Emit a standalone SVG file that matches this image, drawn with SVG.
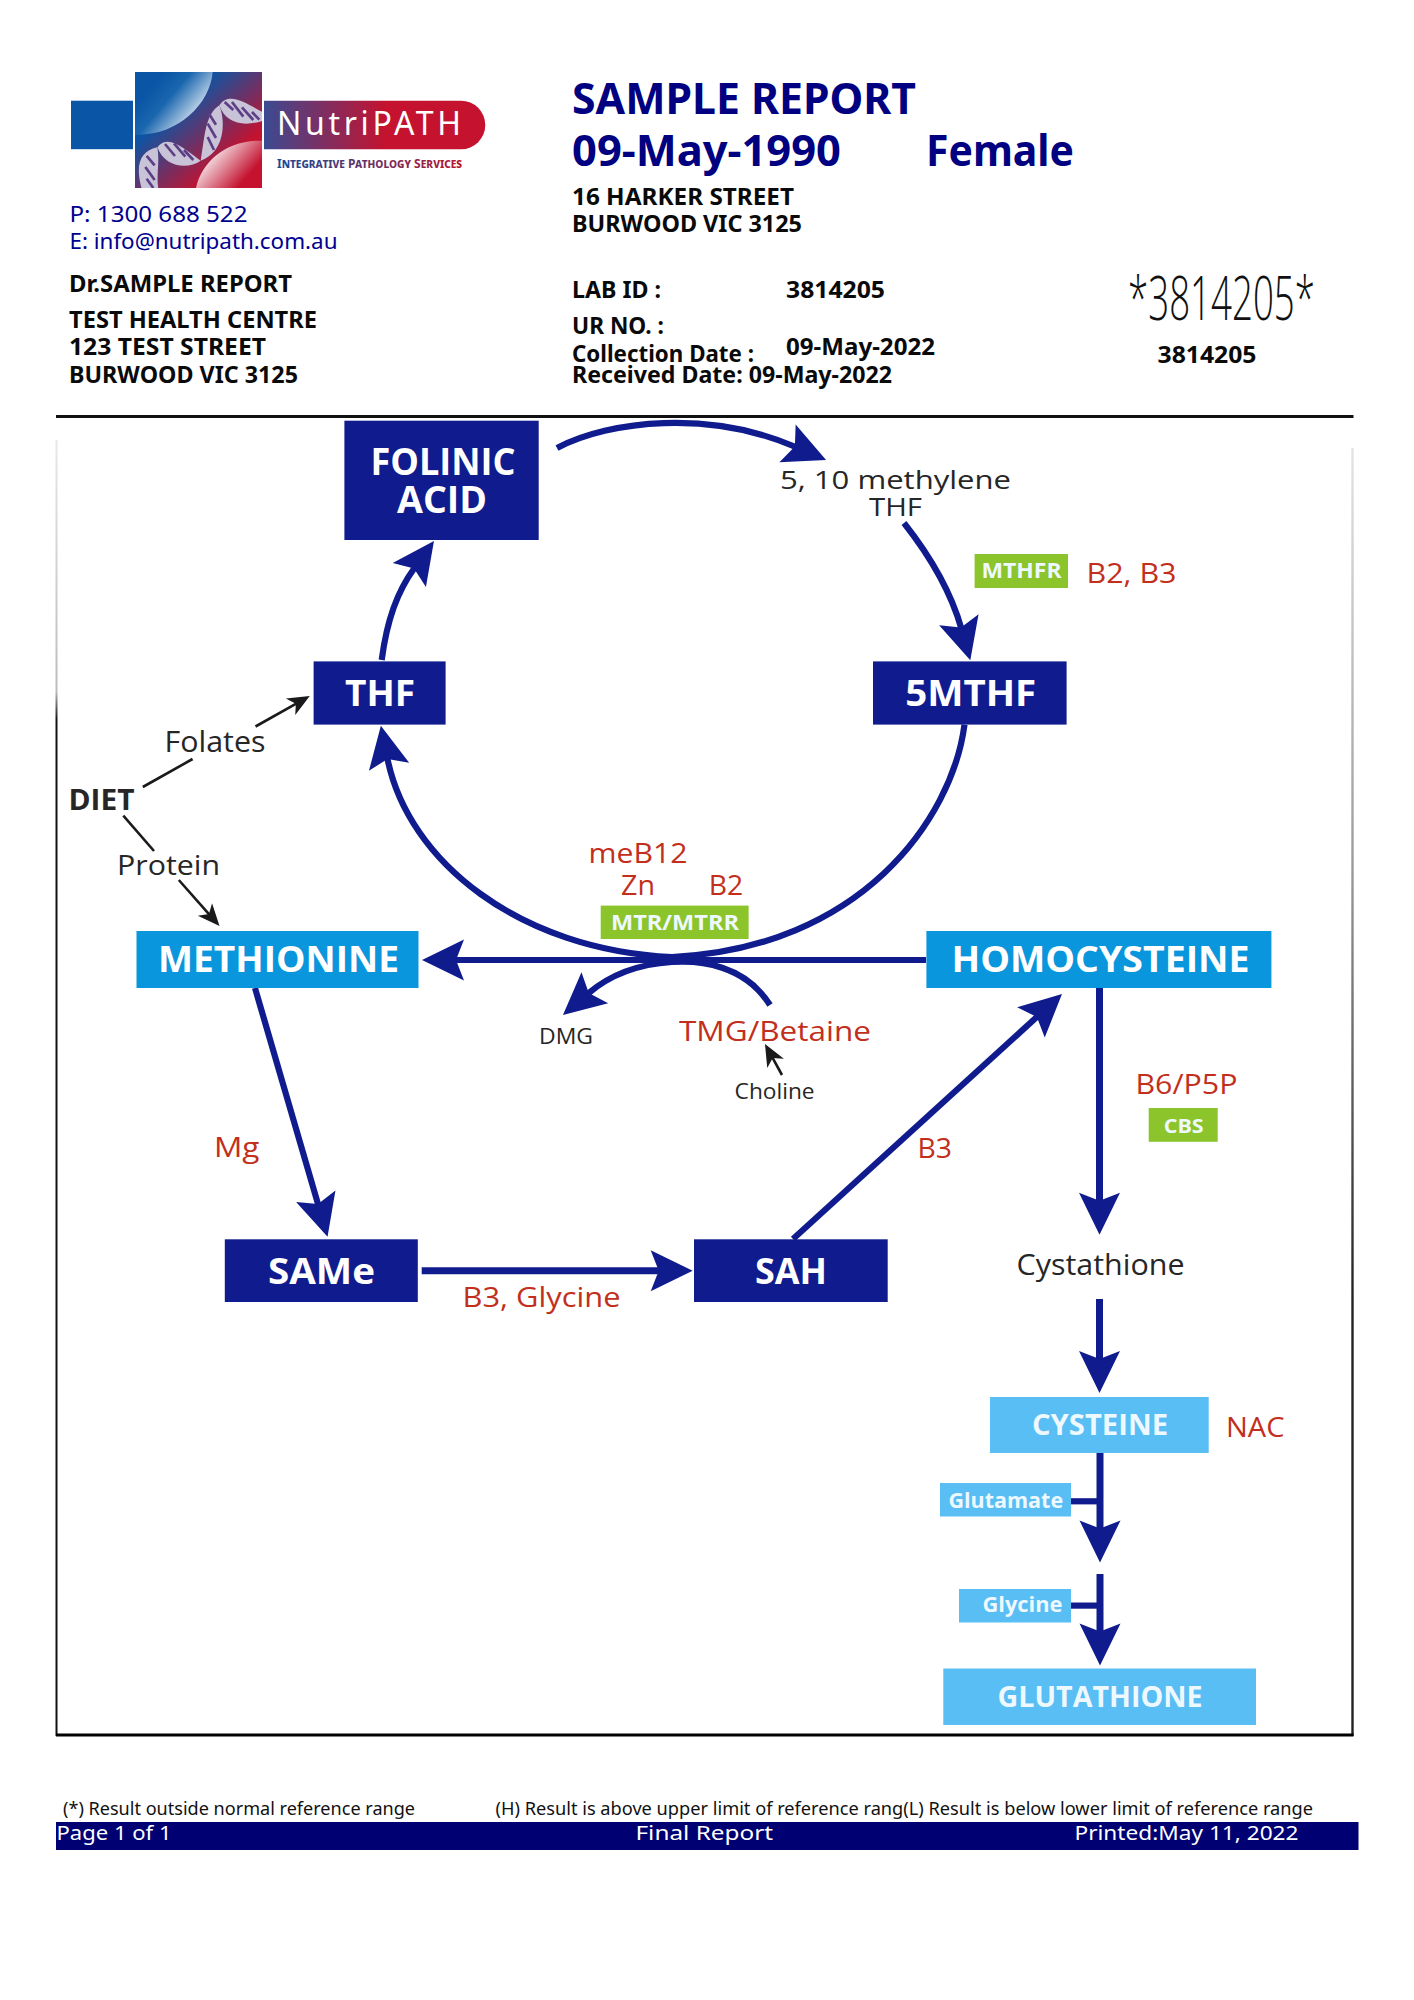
<svg xmlns="http://www.w3.org/2000/svg" width="1414" height="2000" viewBox="0 0 1414 2000">
<style>
text{font-family:"Noto Sans","Liberation Sans",sans-serif}
.o{font-family:"Open Sans","Liberation Sans",sans-serif}
.hn{font-weight:700;fill:#000080}
.hb{font-weight:700;fill:#0a0a0a;font-size:23px}
.hc{fill:#000090;font-size:22.5px}
.ft{fill:#111;font-size:18px}
.fb{fill:#fff;font-size:20px}
.wb{font-family:"Open Sans","Liberation Sans",sans-serif;font-weight:700;fill:#fff}
.pale{font-family:"Open Sans","Liberation Sans",sans-serif;font-weight:700;fill:#eef8ff}
.blk{font-family:"Open Sans","Liberation Sans",sans-serif;fill:#262626}
.red{font-family:"Open Sans","Liberation Sans",sans-serif;fill:#c22f1d;font-size:28px}
.dark{fill:#101c8e}.mid{fill:#0a96dc}.light{fill:#58bef4}.green{fill:#8cc42c}
.c{fill:none;stroke:#101c8e;stroke-width:6.2}
.t{stroke-width:7}
.k{fill:none;stroke:#1a1a1a;stroke-width:2.6}
.lobe{fill:#c9c3d8}
.rung{fill:none;stroke:#5c3f86;stroke-width:8}
</style>
<defs>
<marker id="big" markerUnits="userSpaceOnUse" viewBox="-12 -22 48 44" refX="0" refY="0" markerWidth="48" markerHeight="44" orient="auto"><path d="M33,0L-9,-20.5L-1,0L-9,20.5z" fill="#101c8e"/></marker>
<marker id="small" markerUnits="userSpaceOnUse" viewBox="-10 -11 28 22" refX="0" refY="0" markerWidth="28" markerHeight="22" orient="auto"><path d="M15,0L-7,-9.5L-1,0L-7,9.5z" fill="#1a1a1a"/></marker>
<linearGradient id="sq" x1="0" y1="0" x2="1" y2="1"><stop offset=".3" stop-color="#0a55a5"/><stop offset=".75" stop-color="#c4122f"/></linearGradient>
<linearGradient id="pill" x1="0" y1="0" x2="1" y2="0"><stop offset="0" stop-color="#3b4a92"/><stop offset=".55" stop-color="#c4122f"/></linearGradient>
<linearGradient id="blobA" gradientUnits="userSpaceOnUse" x1="70" y1="50" x2="205" y2="165"><stop offset="0" stop-color="#0a55a5"/><stop offset=".35" stop-color="#1a66ae"/><stop offset="1" stop-color="#f0f5fa"/></linearGradient>
<linearGradient id="blobB" gradientUnits="userSpaceOnUse" x1="240" y1="250" x2="340" y2="340"><stop offset="0" stop-color="#f8f0f2"/><stop offset="1" stop-color="#c4122f"/></linearGradient>
<linearGradient id="tag" x1="0" y1="0" x2="1" y2="0"><stop offset="0" stop-color="#1a4a98"/><stop offset="1" stop-color="#b8162f"/></linearGradient>
<linearGradient id="fl" gradientUnits="userSpaceOnUse" x1="0" y1="440" x2="0" y2="720"><stop offset="0" stop-color="#e8e8e8"/><stop offset=".9" stop-color="#bbb"/><stop offset="1" stop-color="#111"/></linearGradient>
<linearGradient id="fr" gradientUnits="userSpaceOnUse" x1="0" y1="448" x2="0" y2="1300"><stop offset="0" stop-color="#e4e4e4"/><stop offset=".5" stop-color="#999"/><stop offset="1" stop-color="#222"/></linearGradient>
<clipPath id="sqc"><rect x="135" y="72" width="127" height="116"/></clipPath>
</defs>

<g id="logo">
<rect x="71" y="100.7" width="62" height="48.5" fill="#0a55a5"/>
<rect x="135" y="72" width="127" height="116" fill="url(#sq)"/>
<g clip-path="url(#sqc)"><g transform="translate(130,68) scale(.3333)">
<path d="M15,12H248C240,110 140,205 15,200z" fill="url(#blobA)"/>
<path d="M198,360C215,280 290,215 396,218V360z" fill="url(#blobB)"/>
<path class="lobe" d="M82,238C30,250 15,290 35,362L85,362C78,320 90,280 82,238z"/>
<path class="lobe" d="M82,238C115,195 165,245 212,278C175,305 105,300 82,238z"/>
<path class="lobe" d="M212,278C225,205 225,140 268,112C290,170 280,255 212,278z"/>
<path class="lobe" d="M268,112C300,65 360,115 398,132L398,158C340,178 285,165 268,112z"/>
<path class="rung" d="M50,264L74,292M46,297L74,336M50,332L70,360M105,228L135,264M132,226L166,266M162,246L190,276M236,136L258,170M233,167L258,210M233,207L252,246M284,102L310,126M306,102L340,146M336,118L370,156M366,132L388,155"/>
</g></g>
<path d="M264,100.7H461a24.3,24.3 0 0 1 0,48.6H264z" fill="url(#pill)"/>
<text x="277" y="135" font-size="32" fill="#fff" textLength="184" lengthAdjust="spacing">NutriPATH</text>
<text x="277" y="168" font-size="13" font-weight="700" fill="url(#tag)" style="font-variant:small-caps" textLength="185" lengthAdjust="spacingAndGlyphs">Integrative Pathology Services</text>
</g>

<g id="header-left">
<text class="hc" x="69.5" y="222" textLength="178" lengthAdjust="spacingAndGlyphs">P: 1300 688 522</text>
<text class="hc" x="69.5" y="249" textLength="268" lengthAdjust="spacingAndGlyphs">E: info@nutripath.com.au</text>
<text class="hb" x="69" y="292" textLength="223" lengthAdjust="spacingAndGlyphs">Dr.SAMPLE REPORT</text>
<text class="hb" x="69" y="328" textLength="248" lengthAdjust="spacingAndGlyphs">TEST HEALTH CENTRE</text>
<text class="hb" x="69" y="354.5" textLength="197" lengthAdjust="spacingAndGlyphs">123 TEST STREET</text>
<text class="hb" x="69" y="383" textLength="229" lengthAdjust="spacingAndGlyphs">BURWOOD VIC 3125</text>
</g>

<g id="header-right">
<text class="hn" font-size="43" x="572" y="114" textLength="344" lengthAdjust="spacingAndGlyphs">SAMPLE REPORT</text>
<text class="hn" font-size="43" x="572" y="165.5" textLength="269" lengthAdjust="spacingAndGlyphs">09-May-1990</text>
<text class="hn" font-size="43" x="926" y="165.5" textLength="148" lengthAdjust="spacingAndGlyphs">Female</text>
<text class="hb" x="572" y="205" textLength="222" lengthAdjust="spacingAndGlyphs">16 HARKER STREET</text>
<text class="hb" x="572" y="232" textLength="230" lengthAdjust="spacingAndGlyphs">BURWOOD VIC 3125</text>
<text class="hb" x="572" y="298" textLength="89" lengthAdjust="spacingAndGlyphs">LAB ID :</text>
<text class="hb" x="786" y="298" textLength="99" lengthAdjust="spacingAndGlyphs">3814205</text>
<text class="hb" x="572" y="334" textLength="92" lengthAdjust="spacingAndGlyphs">UR NO. :</text>
<text class="hb" x="572" y="361.5" textLength="182" lengthAdjust="spacingAndGlyphs">Collection Date :</text>
<text class="hb" x="786" y="355" textLength="149" lengthAdjust="spacingAndGlyphs">09-May-2022</text>
<text class="hb" x="572" y="383" textLength="320" lengthAdjust="spacingAndGlyphs">Received Date: 09-May-2022</text>
<text class="o" x="1128" y="320" font-size="60" font-weight="300" fill="#111" textLength="187" lengthAdjust="spacingAndGlyphs">*3814205*</text>
<text class="hb" x="1157.5" y="362.5" textLength="99" lengthAdjust="spacingAndGlyphs">3814205</text>
</g>

<g id="frame">
<line x1="56" y1="416.5" x2="1353.5" y2="416.5" stroke="#111" stroke-width="2.8"/>
<line x1="56.5" y1="440" x2="56.5" y2="1736" stroke="url(#fl)" stroke-width="2"/>
<line x1="1352.5" y1="448" x2="1352.5" y2="1736" stroke="url(#fr)" stroke-width="2.4"/>
<line x1="56" y1="1735" x2="1353.5" y2="1735" stroke="#000" stroke-width="3"/>
</g>

<g id="connectors">
<path class="c" marker-end="url(#big)" d="M964.5,724.6C952,820 860,948 672,957C520,950 408,862 387.3,758"/>
<path class="c" marker-end="url(#big)" d="M381.7,660C387,620 397,592 414.6,567.7"/>
<path class="c" marker-end="url(#big)" d="M557,448C610,420 710,410 795.8,447"/>
<path class="c" marker-end="url(#big)" d="M904,523C930,556 951,592 961.3,628.4"/>
<path class="c" marker-end="url(#big)" d="M926,960L455,960"/>
<path class="c" marker-end="url(#big)" d="M770,1005C745,965 700,960 672,962C640,964 612,973 588,993.6"/>
<path class="c" marker-end="url(#big)" d="M255,988L318.3,1205"/>
<path class="c t" marker-end="url(#big)" d="M421.7,1270.7L659.7,1270.7"/>
<path class="c" marker-end="url(#big)" d="M793,1239L1037.6,1016.3"/>
<path class="c t" marker-end="url(#big)" d="M1099.5,988L1099.5,1201.7"/>
<path class="c t" marker-end="url(#big)" d="M1099.5,1299L1099.5,1360"/>
<path class="c t" marker-end="url(#big)" d="M1100,1453L1100,1529.5"/>
<path class="c t" marker-end="url(#big)" d="M1100,1574L1100,1632.5"/>
<path class="c" d="M1071,1501.3L1100,1501.3"/>
<path class="c" d="M1071,1605.6L1100,1605.6"/>
<path class="k" marker-end="url(#small)" d="M255.5,726.5L296.7,703.3"/>
<path class="k" d="M142.8,787L192.6,759"/>
<path class="k" d="M123.3,815.7L154,851"/>
<path class="k" marker-end="url(#small)" d="M178.8,880L209.6,914.8"/>
<path class="k" marker-end="url(#small)" d="M782,1075L772.2,1057.2"/>
</g>

<g id="folinic-acid"><rect class="dark" x="344.4" y="420.7" width="194.3" height="119.3"/>
<text class="wb" font-size="37" x="370.5" y="474.5" textLength="145" lengthAdjust="spacingAndGlyphs">FOLINIC</text>
<text class="wb" font-size="37" x="397" y="513" textLength="90" lengthAdjust="spacingAndGlyphs">ACID</text></g>
<g id="thf"><rect class="dark" x="313.6" y="661.4" width="132" height="63.2"/>
<text class="wb" font-size="36" x="345" y="705.8" textLength="70" lengthAdjust="spacingAndGlyphs">THF</text></g>
<g id="mthf5"><rect class="dark" x="873" y="661.4" width="193.6" height="63.2"/>
<text class="wb" font-size="36" x="905.2" y="705.8" textLength="131" lengthAdjust="spacingAndGlyphs">5MTHF</text></g>
<g id="methionine"><rect class="mid" x="136.5" y="931" width="282" height="57"/>
<text class="wb" font-size="36" x="158" y="972" textLength="241" lengthAdjust="spacingAndGlyphs">METHIONINE</text></g>
<g id="homocysteine"><rect class="mid" x="926.4" y="931" width="345" height="57"/>
<text class="wb" font-size="36" x="951.5" y="972" textLength="298" lengthAdjust="spacingAndGlyphs">HOMOCYSTEINE</text></g>
<g id="same"><rect class="dark" x="224.8" y="1239.3" width="193" height="62.7"/>
<text class="wb" font-size="36" x="268" y="1283.5" textLength="107" lengthAdjust="spacingAndGlyphs">SAMe</text></g>
<g id="sah"><rect class="dark" x="694" y="1239.3" width="193.7" height="62.7"/>
<text class="wb" font-size="36" x="755" y="1283.5" textLength="72" lengthAdjust="spacingAndGlyphs">SAH</text></g>
<g id="cysteine"><rect class="light" x="990" y="1397" width="218.7" height="56"/>
<text class="pale" font-size="28" x="1032" y="1434.5" textLength="136" lengthAdjust="spacingAndGlyphs">CYSTEINE</text></g>
<g id="glutamate"><rect class="light" x="940" y="1483" width="131" height="33.5"/>
<text class="pale" font-size="22" x="948.5" y="1507.8" textLength="114.6" lengthAdjust="spacingAndGlyphs">Glutamate</text></g>
<g id="glycine"><rect class="light" x="959" y="1589" width="112" height="33.5"/>
<text class="pale" font-size="22" x="982.5" y="1612.4" textLength="80" lengthAdjust="spacingAndGlyphs">Glycine</text></g>
<g id="glutathione"><rect class="light" x="943.3" y="1668.5" width="312.7" height="56.5"/>
<text class="pale" font-size="28" x="997.5" y="1707" textLength="205" lengthAdjust="spacingAndGlyphs">GLUTATHIONE</text></g>
<g id="mthfr"><rect class="green" x="974.6" y="554" width="93.4" height="34"/>
<text class="pale" font-size="21" x="981.5" y="578" textLength="80" lengthAdjust="spacingAndGlyphs">MTHFR</text></g>
<g id="mtr-mtrr"><rect class="green" x="600.7" y="905.6" width="147.9" height="33.4"/>
<text class="pale" font-size="21" x="611" y="929.7" textLength="128" lengthAdjust="spacingAndGlyphs">MTR/MTRR</text></g>
<g id="cbs"><rect class="green" x="1148.7" y="1108" width="69" height="33.8"/>
<text class="pale" font-size="20" x="1163.7" y="1132.6" textLength="40" lengthAdjust="spacingAndGlyphs">CBS</text></g>

<g id="labels">
<text class="blk" font-size="26" x="780" y="489" textLength="231" lengthAdjust="spacingAndGlyphs">5, 10 methylene</text>
<text class="blk" font-size="26" x="869" y="516.4" textLength="53" lengthAdjust="spacingAndGlyphs">THF</text>
<text class="blk" font-size="29" x="164.5" y="751.7" textLength="101" lengthAdjust="spacingAndGlyphs">Folates</text>
<text class="blk" font-size="28" font-weight="700" x="68.5" y="809.5" textLength="66" lengthAdjust="spacingAndGlyphs">DIET</text>
<text class="blk" font-size="28" x="117" y="874.5" textLength="103" lengthAdjust="spacingAndGlyphs">Protein</text>
<text class="blk" font-size="21" x="539" y="1043.5" textLength="54" lengthAdjust="spacingAndGlyphs">DMG</text>
<text class="blk" font-size="21" x="734.6" y="1099" textLength="80" lengthAdjust="spacingAndGlyphs">Choline</text>
<text class="blk" font-size="29" x="1016.5" y="1274.5" textLength="168" lengthAdjust="spacingAndGlyphs">Cystathione</text>
<text class="red" x="1086.5" y="583" textLength="90" lengthAdjust="spacingAndGlyphs">B2, B3</text>
<text class="red" x="588.5" y="863" textLength="99" lengthAdjust="spacingAndGlyphs">meB12</text>
<text class="red" x="621" y="894.5" textLength="34" lengthAdjust="spacingAndGlyphs">Zn</text>
<text class="red" x="708.7" y="894.5" textLength="34.5" lengthAdjust="spacingAndGlyphs">B2</text>
<text class="red" x="679" y="1040.7" textLength="192" lengthAdjust="spacingAndGlyphs">TMG/Betaine</text>
<text class="red" x="214" y="1157" textLength="45.5" lengthAdjust="spacingAndGlyphs">Mg</text>
<text class="red" x="462.5" y="1307" textLength="158" lengthAdjust="spacingAndGlyphs">B3, Glycine</text>
<text class="red" x="917.5" y="1158" textLength="34.5" lengthAdjust="spacingAndGlyphs">B3</text>
<text class="red" x="1135.5" y="1093.5" textLength="102" lengthAdjust="spacingAndGlyphs">B6/P5P</text>
<text class="red" x="1226" y="1437" textLength="58.5" lengthAdjust="spacingAndGlyphs">NAC</text>
</g>

<g id="footer">
<text class="ft" x="63" y="1815" textLength="352" lengthAdjust="spacingAndGlyphs">(*) Result outside normal reference range</text>
<text class="ft" x="495.5" y="1815" textLength="817.5" lengthAdjust="spacingAndGlyphs">(H) Result is above upper limit of reference rang(L) Result is below lower limit of reference range</text>
<rect x="56" y="1822" width="1302.5" height="28" fill="#000072"/>
<text class="fb" x="56.5" y="1840" textLength="115" lengthAdjust="spacingAndGlyphs">Page 1 of 1</text>
<text class="fb" x="635.5" y="1840" textLength="137.5" lengthAdjust="spacingAndGlyphs">Final Report</text>
<text class="fb" x="1074.5" y="1840" textLength="224" lengthAdjust="spacingAndGlyphs">Printed:May 11, 2022</text>
</g>
</svg>
